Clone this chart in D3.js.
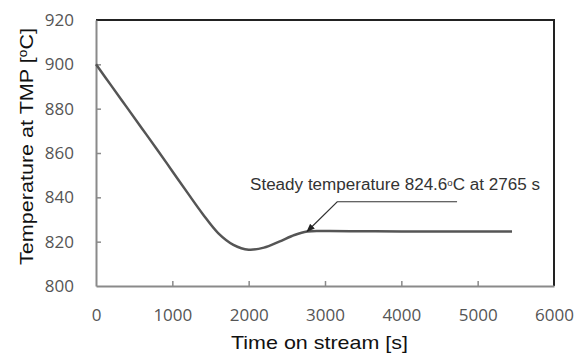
<!DOCTYPE html>
<html><head><meta charset="utf-8">
<script src="https://cdn.jsdelivr.net/npm/d3@7"></script>
<style>body{margin:0;background:#fff}svg{display:block}</style>
</head><body>
<svg id="c" width="577" height="357"></svg>
<script>
const timeValues = [0, 200, 400, 600, 800, 1000, 1200, 1400, 1600, 1800, 2000, 2200, 2400, 2600, 2765, 3000, 3500, 4000, 4500, 5000, 5450];
const tempValues = [900, 890.4, 880.8, 871.2, 861.6, 851.8, 842.0, 832.4, 823.9, 818.6, 816.4, 817.3, 820.0, 823.0, 824.6, 824.8, 824.7, 824.6, 824.6, 824.6, 824.6];
const xTicks = [0, 1000, 2000, 3000, 4000, 5000, 6000];
const yTicks = [800, 820, 840, 860, 880, 900, 920];
const annotation = {tipX: 2765, tipY: 824.6, elbowX: 3160, lineY: 838, endX: 4730};

const svg = d3.select('#c');
const L = 96, R = 554, T = 20, B = 286;
const x = d3.scaleLinear().domain([0, 6000]).range([L, R]);
const y = d3.scaleLinear().domain([800, 920]).range([B, T]);
const axisCol = '#8a8a8a';
const font = "'Liberation Sans', Arial, sans-serif";

// frame top/right
svg.append('path').attr('d', `M${L},${T}H${R}V${B}`).attr('fill','none').attr('stroke','#222').attr('stroke-width',2);

// axes
const gx = svg.append('g').attr('transform', `translate(0,${B})`)
  .call(d3.axisBottom(x).tickValues(xTicks).tickSizeInner(-5).tickSizeOuter(0).tickPadding(23).tickFormat(d3.format('d')));
const gy = svg.append('g').attr('transform', `translate(${L},0)`)
  .call(d3.axisLeft(y).tickValues(yTicks).tickSizeInner(-5).tickSizeOuter(0).tickPadding(22).tickFormat(d3.format('d')));
[gx, gy].forEach(g => {
  g.select('.domain').attr('stroke', axisCol).attr('stroke-width', 2);
  g.selectAll('.tick line').attr('stroke', axisCol).attr('stroke-width', 1.5);
  g.selectAll('.tick text').attr('fill', '#555').attr('font-size', 17).attr('font-family', "'Open Sans','Noto Sans',sans-serif");
});
gx.selectAll('.tick').filter(d => d === 0 || d === 6000).select('line').remove();
gy.selectAll('.tick').filter(d => d === 800 || d === 920).select('line').remove();

// curve
const pts = timeValues.map((t, i) => [t, tempValues[i]]);
svg.append('path').datum(pts)
  .attr('d', d3.line().x(d => x(d[0])).y(d => y(d[1])).curve(d3.curveCatmullRom.alpha(0.5)))
  .attr('fill','none').attr('stroke','#555').attr('stroke-width',2.5);

// annotation
svg.append('defs').append('marker').attr('id','ah').attr('viewBox','0 0 10 10')
  .attr('refX',9).attr('refY',5).attr('markerWidth',7).attr('markerHeight',7).attr('orient','auto')
  .append('path').attr('d','M0,1L10,5L0,9z').attr('fill','#222');
svg.append('path')
  .attr('d', `M${x(annotation.endX)},${y(annotation.lineY)}L${x(annotation.elbowX)},${y(annotation.lineY)}L${x(annotation.tipX)},${y(annotation.tipY)}`)
  .attr('fill','none').attr('stroke','#333').attr('stroke-width',1.2).attr('marker-end','url(#ah)');
const at = svg.append('text').attr('x', 250).attr('y', 190).attr('font-family', font).attr('font-size', 16).attr('fill','#333')
  .attr('textLength', 290).attr('lengthAdjust', 'spacingAndGlyphs');
at.append('tspan').text('Steady temperature 824.6');
at.append('tspan').attr('font-size', 9).attr('dy', -4).text('o');
at.append('tspan').attr('dy', 4).text('C at 2765 s');

// axis titles
svg.append('text').attr('x', 231).attr('y', 349)
  .attr('font-family', font).attr('font-size', 19).attr('fill','#111')
  .attr('textLength', 177).attr('lengthAdjust', 'spacingAndGlyphs').text('Time on stream [s]');
const yt = svg.append('text').attr('transform', `translate(33,265) rotate(-90)`)
  .attr('font-family', font).attr('font-size', 19).attr('fill','#111')
  .attr('textLength', 237).attr('lengthAdjust', 'spacingAndGlyphs');
yt.append('tspan').text('Temperature at TMP [');
yt.append('tspan').attr('font-size', 12).attr('dy', -6).text('o');
yt.append('tspan').attr('dy', 6).text('C]');
</script>
</body></html>
